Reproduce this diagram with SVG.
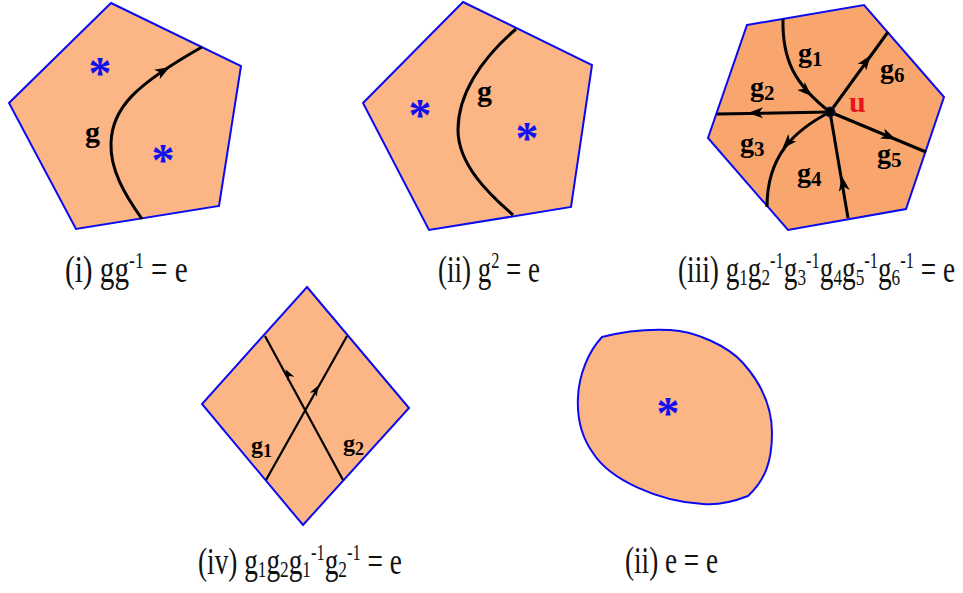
<svg xmlns="http://www.w3.org/2000/svg" width="963" height="593" viewBox="0 0 963 593">
<style>
.face{fill:#FCB585;stroke:#0A0AF0;stroke-width:2;stroke-linejoin:miter}
.face3{fill:#F8A66E;stroke:#0A0AF0;stroke-width:2}
.curve{fill:none;stroke:#000;stroke-width:3}
.thin{fill:none;stroke:#000;stroke-width:2.2}
.ah{fill:none;stroke:none;marker-end:url(#arr)}
.ahs{fill:none;stroke:none;marker-end:url(#arrs)}
.lbl{font-family:"Liberation Serif","Times New Roman",serif;font-weight:bold;fill:#000}
.star{font-family:"Liberation Serif","Times New Roman",serif;font-weight:bold;fill:#1010F0;text-anchor:middle;font-size:46px}
.cap{font-family:"Liberation Serif","Times New Roman",serif;font-size:38px;fill:#111}
.sub{font-size:24px}
.sup{font-size:23px}
</style>
<defs>
<marker id="arr" markerUnits="userSpaceOnUse" markerWidth="15" markerHeight="11" viewBox="0 0 15 11" refX="14" refY="5.5" orient="auto">
<path d="M0,0 L15,5.5 L0,11 L4,5.5 Z" fill="#000"/>
</marker>
<marker id="arrs" markerUnits="userSpaceOnUse" markerWidth="11" markerHeight="8" viewBox="0 0 11 8" refX="10" refY="4" orient="auto">
<path d="M0,0 L11,4 L0,8 L3,4 Z" fill="#000"/>
</marker>
</defs>

<g id="panel-i">
<polygon class="face" points="111,3 241,66 219,206 76,229 9,103"/>
<text class="star" x="100" y="89">*</text>
<text class="star" x="163" y="176">*</text>
<text class="lbl" x="85" y="142" font-size="30">g</text>
<text class="cap" transform="translate(65,282) scale(0.769,1)" x="0" y="0">(i) gg<tspan class="sup" y="-14">-1</tspan><tspan y="0"> = e</tspan></text>
</g>

<g id="panel-ii">
<polygon class="face" points="463,2 592,65 571,207 429,230 363,103"/>
<text class="star" x="420" y="131">*</text>
<text class="star" x="527" y="154">*</text>
<text class="lbl" x="477" y="101" font-size="30">g</text>
<text class="cap" transform="translate(438,282) scale(0.71,1)" x="0" y="0">(ii) g<tspan class="sup" y="-14">2</tspan><tspan y="0"> = e</tspan></text>
</g>

<g id="panel-iii">
<polygon class="face3" points="747,25 864,5 944,97 906,209 788,230 708,138"/>
<g class="lbl" font-size="28">
<text x="798" y="62">g<tspan y="66" font-size="21">1</tspan></text>
<text x="750" y="96">g<tspan y="100" font-size="21">2</tspan></text>
<text x="740" y="152">g<tspan y="156" font-size="21">3</tspan></text>
<text x="797" y="182">g<tspan y="186" font-size="21">4</tspan></text>
<text x="877" y="163">g<tspan y="167" font-size="21">5</tspan></text>
<text x="880" y="78">g<tspan y="82" font-size="21">6</tspan></text>
</g>
<text class="lbl" x="849" y="112" font-size="30" style="fill:#E8141E">u</text>
<text class="cap" transform="translate(678,282) scale(0.717,1)" x="0" y="0">(iii) g<tspan class="sub" y="3">1</tspan><tspan y="0">g</tspan><tspan class="sub" y="3">2</tspan><tspan class="sup" y="-14">-1</tspan><tspan y="0">g</tspan><tspan class="sub" y="3">3</tspan><tspan class="sup" y="-14">-1</tspan><tspan y="0">g</tspan><tspan class="sub" y="3">4</tspan><tspan y="0">g</tspan><tspan class="sub" y="3">5</tspan><tspan class="sup" y="-14">-1</tspan><tspan y="0">g</tspan><tspan class="sub" y="3">6</tspan><tspan class="sup" y="-14">-1</tspan><tspan y="0"> = e</tspan></text>
</g>

<g id="panel-iv">
<polygon class="face" points="307,287 409,408 303,525 202,404"/>
<text class="lbl" x="251" y="453" font-size="24">g<tspan y="457" font-size="18">1</tspan></text>
<text class="lbl" x="343" y="451" font-size="24">g<tspan y="455" font-size="18">2</tspan></text>
<text class="cap" transform="translate(198,574) scale(0.718,1)" x="0" y="0">(iv) g<tspan class="sub" y="3">1</tspan><tspan y="0">g</tspan><tspan class="sub" y="3">2</tspan><tspan y="0">g</tspan><tspan class="sub" y="3">1</tspan><tspan class="sup" y="-14">-1</tspan><tspan y="0">g</tspan><tspan class="sub" y="3">2</tspan><tspan class="sup" y="-14">-1</tspan><tspan y="0"> = e</tspan></text>
</g>

<g id="panel-v">
<path class="face" d="M602,337 C625,331 650,329 670,330 C695,331 728,346 743,363 C760,382 772,405 772,433 C772,462 765,480 748,496 C730,503 715,505 703,504 C660,502 610,480 593,453 C580,435 577,415 578,397 C579,375 588,352 602,337 Z"/>
<text class="star" x="668" y="429">*</text>
<text class="cap" transform="translate(625,573) scale(0.715,1)" x="0" y="0">(ii) e = e</text>
</g>

<g id="connectors">
<path class="curve" d="M142,219 C125,195 110,170 111,143 C112,108 135,85 202,47"/>
<path class="ah" d="M156,75 L169,67.4"/>
<path class="curve" d="M516,29 C480,60 458,95 458,130 C458,165 490,195 513,215"/>
<path class="curve" d="M783,19 C782,60 795,85 830,112"/>
<path class="ah" d="M802,87 L811,95.5"/>
<path class="curve" d="M830,112 L717,114"/>
<path class="ah" d="M763,112.8 L749,113.1"/>
<path class="curve" d="M830,112 C795,130 767,155 767,207"/>
<path class="ah" d="M792,138 L783,148"/>
<path class="curve" d="M848,218 L830,112"/>
<path class="ah" d="M844.5,192 L842,177"/>
<path class="curve" d="M830,112 L926,152"/>
<path class="ah" d="M882,133.5 L895,139"/>
<path class="curve" d="M830,112 L888,32"/>
<path class="ah" d="M862,67 L870,56"/>
<circle cx="830" cy="112" r="5" fill="#000" stroke="#1A1A60" stroke-width="1"/>
<path class="thin" d="M265,336 L343,480"/>
<path class="ahs" d="M291,379 L286,370"/>
<path class="thin" d="M266,480 L347,336"/>
<path class="ahs" d="M313,395 L318,386"/>
</g>
</svg>
